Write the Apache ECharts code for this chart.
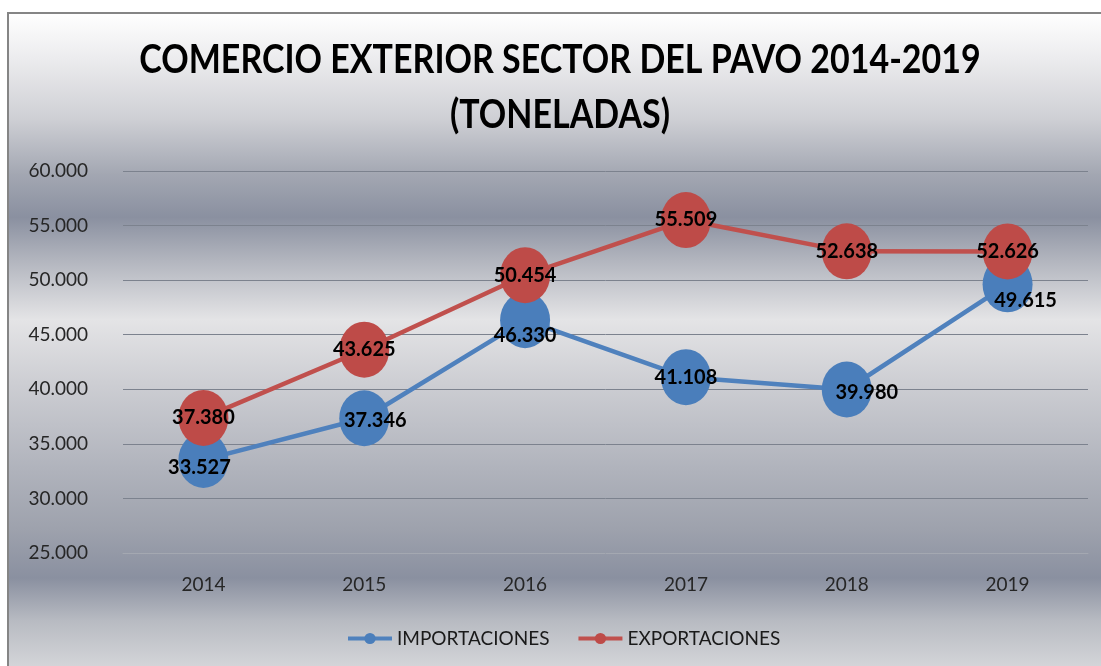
<!DOCTYPE html>
<html>
<head>
<meta charset="utf-8">
<script src="https://cdn.jsdelivr.net/npm/echarts@6/dist/echarts.min.js"></script>
<style>
  html, body { margin: 0; padding: 0; background: #fff; }
  #chart { width: 1101px; height: 666px; }
</style>
</head>
<body>
<div id="chart"></div>
<script>
// Data
const years = ['2014', '2015', '2016', '2017', '2018', '2019']
const importaciones = [33527, 37346, 46330, 41108, 39980, 49615]
const exportaciones = [37380, 43625, 50454, 55509, 52638, 52626]
const yTicks = { min: 25000, max: 60000, step: 5000 }

// per-point label nudges (Excel placed a few labels off-centre)
const importLabelShift = [[-4, 8], [11, 2], [0, 15], [0, 0], [20, 3], [18, 16]]

function fmt(v) {
  return (v / 1000).toFixed(3)
}

function withShift(values, shifts) {
  return values.map((v, i) => ({
    value: v,
    label: shifts ? { offset: shifts[i] } : undefined,
  }))
}

const chart = echarts.init(document.getElementById('chart'))

const labelStyle = {
  show: true,
  position: 'inside',
  formatter: (p) => fmt(p.value),
  fontFamily: 'Lato',
  fontWeight: 'bold',
  fontSize: 20,
  color: '#000',
}

const option = {
  animation: false,
  graphic: [
    {
      type: 'rect',
      z: -10,
      shape: { x: 8, y: 13, width: 1100, height: 660 },
      style: {
        stroke: '#858585',
        lineWidth: 2,
        fill: {
          type: 'linear', x: 0, y: 0, x2: 0, y2: 1,
          colorStops: [
            { offset: 0.00, color: '#ffffff' },
            { offset: 0.07, color: '#ececee' },
            { offset: 0.16, color: '#cfd0d5' },
            { offset: 0.245, color: '#a3a7b2' },
            { offset: 0.31, color: '#8a90a0' },
            { offset: 0.375, color: '#b2b5be' },
            { offset: 0.465, color: '#e4e4e6' },
            { offset: 0.56, color: '#cdced3' },
            { offset: 0.69, color: '#b0b3bc' },
            { offset: 0.78, color: '#9ea2ad' },
            { offset: 0.855, color: '#8a90a0' },
            { offset: 0.92, color: '#b8bbc2' },
            { offset: 1.00, color: '#d8d9dc' },
          ],
        },
      },
    },
    {
      // title, squeezed horizontally to mimic the condensed bold face
      type: 'text',
      x: 560,
      y: 33,
      scaleX: 0.85,
      z: 10,
      style: {
        text: 'COMERCIO EXTERIOR SECTOR DEL PAVO 2014-2019\n(TONELADAS)',
        font: 'bold 40px Lato',
        lineHeight: 55,
        fill: '#000',
        textAlign: 'center',
        textVerticalAlign: 'top',
      },
    },
  ],
  legend: {
    left: 341,
    top: 624,
    itemWidth: 44,
    itemHeight: 14,
    itemGap: 27,
    lineStyle: { width: 4 },
    textStyle: {
      fontFamily: 'Lato',
      fontSize: 19,
      color: '#1a1a1a',
    },
    data: ['IMPORTACIONES', 'EXPORTACIONES'],
  },
  grid: {
    left: 123,
    right: 13,
    top: 171,
    bottom: 113,
  },
  xAxis: {
    type: 'category',
    data: years,
    boundaryGap: true,
    axisLine: { lineStyle: { color: '#a4a8b1', width: 1 } },
    axisTick: { show: false },
    axisLabel: {
      margin: 22,
      fontFamily: 'Lato',
      fontSize: 19,
      color: '#262626',
    },
  },
  yAxis: {
    type: 'value',
    min: yTicks.min,
    max: yTicks.max,
    interval: yTicks.step,
    axisLine: { show: false },
    axisTick: { show: false },
    splitLine: { lineStyle: { color: '#7c828e', width: 1 } },
    axisLabel: {
      margin: 35,
      fontFamily: 'Lato',
      fontSize: 19,
      color: '#262626',
      formatter: fmt,
    },
  },
  series: [
    {
      name: 'IMPORTACIONES',
      type: 'line',
      data: withShift(importaciones, importLabelShift),
      symbol: 'circle',
      symbolSize: [50, 56],
      lineStyle: { color: '#4f81bd', width: 4.5 },
      itemStyle: { color: '#4a7ebb' },
      label: labelStyle,
      z: 3,
    },
    {
      name: 'EXPORTACIONES',
      type: 'line',
      data: withShift(exportaciones),
      symbol: 'circle',
      symbolSize: [50, 56],
      lineStyle: { color: '#c0504d', width: 4.5 },
      itemStyle: { color: '#be4b48' },
      label: labelStyle,
      z: 3,
    },
  ],
}

chart.setOption(option)
</script>
</body>
</html>
